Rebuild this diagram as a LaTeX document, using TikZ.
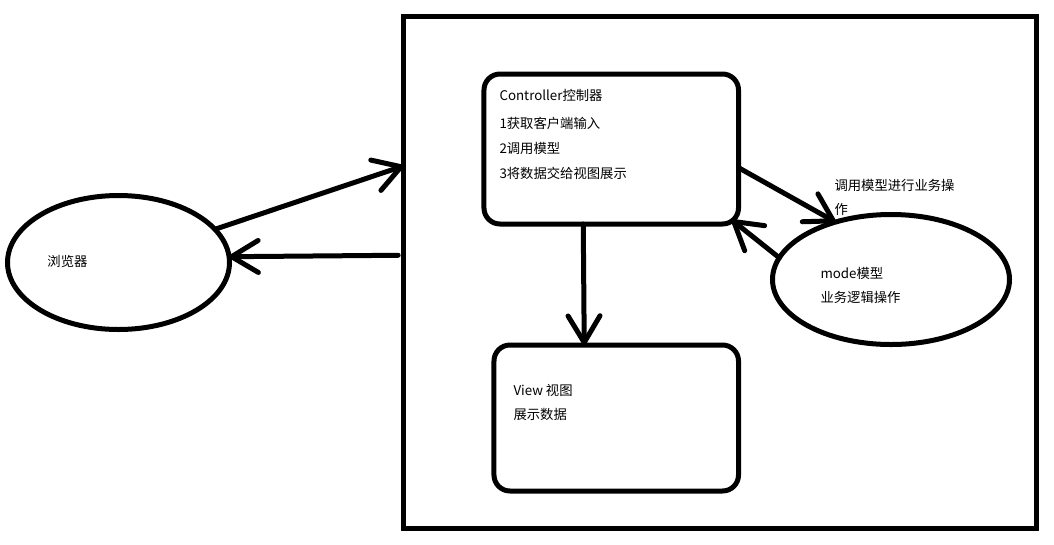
\documentclass[tikz,border=0pt]{standalone}
\usepackage{fontspec}
\setmainfont{Noto Sans CJK SC}
\usetikzlibrary{calc}
\usetikzlibrary{arrows.meta}
\usetikzlibrary{shapes.geometric}

\begin{document}
\begin{tikzpicture} [x=0.75pt,y=-0.75pt,line width=3.75pt,
  box/.style={draw,rounded corners=12pt,inner sep=0pt,outer sep=0pt},
  oval/.style={draw,ellipse,inner sep=0pt,outer sep=0pt},
  txt/.style={align=left,anchor=base west,inner sep=0pt,font=\fontsize{10pt}{18.75pt}\selectfont},
  arr/.style={-{Straight Barb[length=20pt,width=24pt,round]},line cap=round}]

\useasboundingbox (0,0) rectangle (1054,544);

\node (frame) at (720,272.6) [draw,minimum width=474.75pt,minimum height=384.5pt,inner sep=0pt,outer sep=0pt] {};
\node (ctrl) at (611.25,149) [box,minimum width=190.9pt,minimum height=112.5pt] {};
\node (view) at (616.25,418) [box,minimum width=183.4pt,minimum height=109.5pt] {};
\node (browser) at (118.5,262.5) [oval,minimum width=166.5pt,minimum height=100.5pt] {};
\node (model) at (891,279.5) [oval,minimum width=177.75pt,minimum height=97.5pt] {};

% text blocks, anchored at the baseline of their last line
\node (ctrltxt) at (497,178) [txt] {Controller控制器\\[2pt]1获取客户端输入\\2调用模型\\3将数据交给视图展示};
\node (viewtxt) at (511,419) [txt] {View 视图\\[-0.75pt]展示数据};
\node (modeltxt) at (818,302) [txt] {mode模型\\[-0.75pt]业务逻辑操作};
\node (calltxt) at (832,214) [txt] {调用模型进行业务操\\[-0.75pt]作};
\node (browsertxt) at (45,266) [txt] {浏览器};

\draw[arr] (browser.19) -- ([yshift=80pt]frame.west);
\draw[arr] ([xshift=-4pt,yshift=13pt]frame.west) -- (browser.3);
\draw[arr] ([xshift=-21pt]ctrl.south) -- ([xshift=-24pt]view.north);
\draw[arr] ([yshift=-14pt]ctrl.east) -- (model.134);
\draw[arr] (model.169) -- ([xshift=-5pt,yshift=3pt]ctrl.south east);

\end{tikzpicture}
\end{document}
